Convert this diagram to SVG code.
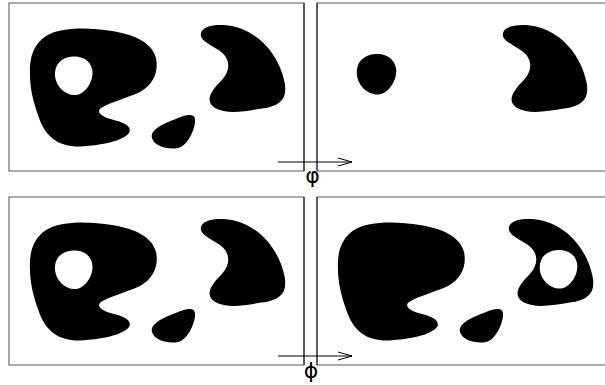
<svg xmlns="http://www.w3.org/2000/svg" xmlns:xlink="http://www.w3.org/1999/xlink" width="605" height="385" viewBox="0 0 605 385">
<style>
.box{fill:#fff;stroke:#555;stroke-width:1}
.edge{stroke:#111;stroke-width:1}
.ink{fill:#000}
.paper{fill:#fff}
.conn{fill:none;stroke:#000;stroke-width:1}
.lbl{font-family:"DejaVu Sans",sans-serif;font-size:22px;fill:#000;text-anchor:middle}
</style>
<defs>
<path id="bigblob" d="M30,75 C29,57 34,44 46,36 C60,27 88,27 112,31 C136,35 152,43 156,58 C159,72 153,85 140,92 C125,99 110,102 101,108 C95,113 104,118 118,121 C127,124 132,128 129,133 C123,141 103,145 80,146.5 C60,147 46,138 39,118 C33,102 30,88 30,75 Z"/>
<path id="hole" d="M73,56.5 C85,56 92,63 92.5,72 C93,82 85,94 76,95 C66,96 56,87 55,76 C54,64 62,57 73,56.5 Z"/>
<path id="crescent" d="M201,33 C203,25 220,23 236,27 C261,34 279,56 284.5,82 C288,99 280,106 262,108.5 C245,111 228,115 215,108 C205,102 210,92 220,82 C230,72 232,60 220,51 C210,44 199,40 201,33 Z"/>
<path id="smallblob" d="M152,138 C150,130 162,124 178,118 C188,114 196,113 195,122 C194,132 187,146 178,148 C168,150 154,146 152,138 Z"/>
</defs>

<g id="panel-top-left">
<rect class="box" x="9" y="3" width="295" height="168"/>
<line class="edge" x1="304" y1="3" x2="304" y2="171"/>
<use xlink:href="#bigblob" class="ink"/>
<use xlink:href="#hole" class="paper"/>
<use xlink:href="#crescent" class="ink"/>
<use xlink:href="#smallblob" class="ink"/>
</g>

<g id="panel-top-right">
<rect class="box" x="317" y="3" width="300" height="168"/>
<line class="edge" x1="317" y1="3" x2="317" y2="171"/>
<use xlink:href="#hole" class="ink" transform="translate(376.5,74) scale(1.05) translate(-73.7,-75.5)"/>
<use xlink:href="#crescent" class="ink" transform="translate(302,0)"/>
</g>

<g id="panel-bottom-left">
<rect class="box" x="9" y="197" width="295" height="168"/>
<line class="edge" x1="304" y1="197" x2="304" y2="365"/>
<g transform="translate(0,194)">
<use xlink:href="#bigblob" class="ink"/>
<use xlink:href="#hole" class="paper"/>
<use xlink:href="#crescent" class="ink"/>
<use xlink:href="#smallblob" class="ink"/>
</g>
</g>

<g id="panel-bottom-right">
<rect class="box" x="317" y="197" width="300" height="168"/>
<line class="edge" x1="317" y1="197" x2="317" y2="365"/>
<g transform="translate(308,194)">
<use xlink:href="#bigblob" class="ink"/>
<use xlink:href="#crescent" class="ink"/>
<use xlink:href="#smallblob" class="ink"/>
</g>
<use xlink:href="#hole" class="paper" transform="translate(484.8,193.5)"/>
</g>

<g id="connectors">
<path class="conn" d="M278,162 H352 M338,158 L352,162 L338,166"/>
<path class="conn" d="M278,356 H352 M338,352 L352,356 L338,360"/>
</g>

<g id="labels">
<text class="lbl" x="312.5" y="183">φ</text>
<text class="lbl" x="311" y="378">ϕ</text>
</g>
</svg>
